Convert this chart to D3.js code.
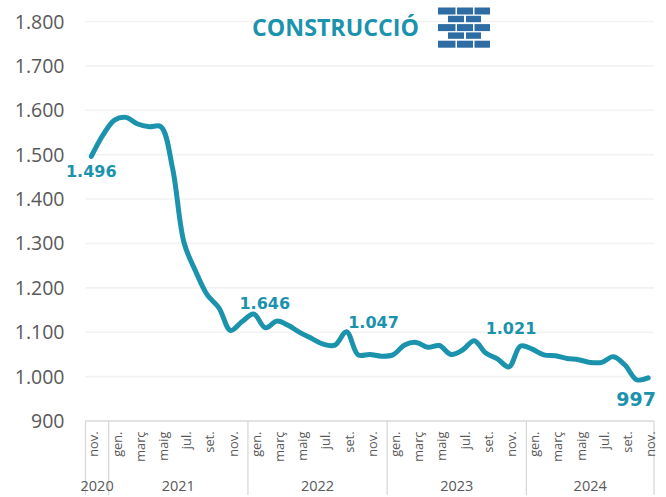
<!DOCTYPE html>
<html><head><meta charset="utf-8">
<script src="https://cdn.jsdelivr.net/npm/d3@7"></script>
<style>html,body{margin:0;padding:0;background:#fff}svg{display:block}</style></head>
<body><div id="c"></div>
<script>
const months=["nov.","des.","gen.","febr.","març","abr.","maig","juny","jul.","ag.","set.","oct.","nov.","des.","gen.","febr.","març","abr.","maig","juny","jul.","ag.","set.","oct.","nov.","des.","gen.","febr.","març","abr.","maig","juny","jul.","ag.","set.","oct.","nov.","des.","gen.","febr.","març","abr.","maig","juny","jul.","ag.","set.","oct.","nov."];
const values=[1496,1544,1578,1584,1569,1563,1563,1470,1301,1237,1184,1155,1104,1124,1141,1110,1125,1115,1099,1086,1073,1071,1101,1049,1050,1046,1049,1071,1077,1066,1070,1050,1060,1081,1053,1040,1022,1069,1062,1049,1047,1041,1038,1032,1032,1045,1026,993,997];
const yTicks=[900,1000,1100,1200,1300,1400,1500,1600,1700,1800];
const yearLabels=["2020","2021","2022","2023","2024"];
const yearSpans=[2,12,12,12,11];
const notes=[{i:0,t:"1.496",dx:0,dy:21,s:16},{i:14,t:"1.646",dx:11,dy:-5,s:16},{i:22,t:"1.047",dx:27,dy:-4,s:16},{i:36,t:"1.021",dx:2,dy:-33,s:16},{i:48,t:"997",dx:-12,dy:28,s:19}];
const W=666,H=497,teal="#1b93ad",grey="#595959",rule="#d9d9d9";
const svg=d3.select("#c").append("svg").attr("width",W).attr("height",H);
const x=d3.scaleBand().domain(d3.range(months.length)).range([85.5,654]);
const y=d3.scaleLinear().domain([900,1800]).range([421,21.5]);
const fmt=v=>d3.format(",")(v).replace(/,/g,".");
const font="'Open Sans',sans-serif";
// grid
svg.append("g").selectAll("line").data(yTicks.slice(1)).join("line")
 .attr("x1",85.5).attr("x2",654).attr("y1",d=>y(d)).attr("y2",d=>y(d))
 .attr("stroke","#f2f2f2").attr("stroke-width",1.6);
// y labels
svg.append("g").selectAll("text").data(yTicks).join("text")
 .attr("x",64.5).attr("y",d=>y(d)+7).attr("text-anchor","end")
 .attr("font-family",font).attr("font-size",19.5).attr("fill",grey).text(fmt);
// x axis frame
svg.append("line").attr("x1",85.5).attr("x2",654).attr("y1",421).attr("y2",421).attr("stroke",rule).attr("stroke-width",1.3);
let acc=0;const seps=[0];yearSpans.forEach(n=>{acc+=n;seps.push(acc)});
const edge=i=>i>=months.length?x.range()[1]:x(i);
svg.append("g").selectAll("line").data(seps).join("line")
 .attr("x1",d=>edge(d)).attr("x2",d=>edge(d)).attr("y1",421).attr("y2",495)
 .attr("stroke",rule).attr("stroke-width",1.3);
// month labels, every second
svg.append("g").selectAll("text").data(months.map((m,i)=>({m,i})).filter(d=>d.i%2===0)).join("text")
 .attr("transform",d=>`translate(${x(d.i)+x.bandwidth()/2+7},431.5) rotate(-90)`)
 .attr("text-anchor","end").attr("font-family",font).attr("font-size",12.8).attr("fill",grey).text(d=>d.m);
// year labels
svg.append("g").selectAll("text").data(yearLabels).join("text")
 .attr("x",(d,k)=>(edge(seps[k])+edge(seps[k+1]))/2).attr("y",490.5)
 .attr("text-anchor","middle").attr("font-family",font).attr("font-size",14.5).attr("fill",grey).text(d=>d);
// line
const line=d3.line().x((d,i)=>x(i)+x.bandwidth()/2).y(d=>y(d)).curve(d3.curveCatmullRom.alpha(0.5));
svg.append("path").datum(values).attr("d",line).attr("fill","none").attr("stroke",teal).attr("stroke-width",5).attr("stroke-linecap","round").attr("stroke-linejoin","round");
// data labels
svg.append("g").selectAll("text").data(notes).join("text")
 .attr("x",d=>x(d.i)+x.bandwidth()/2+d.dx).attr("y",d=>y(values[d.i])+d.dy).attr("text-anchor","middle")
 .attr("font-family","'DejaVu Sans',sans-serif").attr("font-weight","bold").attr("font-size",d=>d.s).attr("fill",teal).text(d=>d.t);
// title
svg.append("text").attr("x",335.5).attr("y",36).attr("text-anchor","middle").attr("font-family",font).attr("font-weight","bold").attr("font-size",23.2).attr("fill",teal).text("CONSTRUCCIÓ");
// brick icon
const rows=[[438,455.5,457,473,474.5,490],[448,464,466,481],[438,455.5,457,473,474.5,490],[448,464,466,481],[438,455.5,457,473,474.5,490]];
const icon=svg.append("g").attr("fill","#2e6ca4");
rows.forEach((r,k)=>{for(let j=0;j<r.length;j+=2)icon.append("rect").attr("x",r[j]).attr("y",7.5+k*8.3).attr("width",r[j+1]-r[j]).attr("height",k%2?6.4:7);});
</script></body></html>
